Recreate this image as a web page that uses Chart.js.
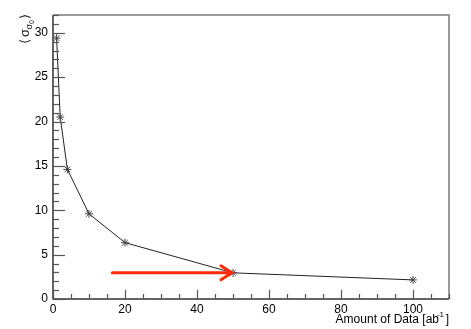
<!DOCTYPE html>
<html>
<head>
<meta charset="utf-8">
<script src="https://cdn.jsdelivr.net/npm/chart.js@4/dist/chart.umd.min.js"></script>
<style>
  html, body { margin: 0; padding: 0; background: #fff; }
  #wrap { width: 471px; height: 329px; }
</style>
</head>
<body>
<div id="wrap"><canvas id="grafico" width="471" height="329"></canvas></div>
<script>
// datos
var cantidad = [1, 2, 4, 10, 20, 50, 100];
var sigma = [29.4, 20.5, 14.6, 9.6, 6.35, 2.95, 2.15];
var xTicks = [0, 20, 40, 60, 80, 100];
var yTicks = [0, 5, 10, 15, 20, 25, 30];
var flechaX = [16.5, 50];
var flechaY = [2.95, 2.95];

var fuente = '"Liberation Sans", Arial, sans-serif';

// ticks hacia adentro, marco y flecha roja
var marcoPlugin = {
  id: 'marco',
  afterDatasetsDraw: function (chart) {
    var ctx = chart.ctx;
    var a = chart.chartArea;
    var sx = chart.scales.x, sy = chart.scales.y;
    ctx.save();
    // marco gris arriba y derecha
    ctx.strokeStyle = '#999';
    ctx.lineWidth = 2;
    ctx.beginPath();
    ctx.moveTo(a.left, a.top);
    ctx.lineTo(a.right, a.top);
    ctx.lineTo(a.right, a.bottom);
    ctx.stroke();
    // ejes
    ctx.strokeStyle = '#333';
    ctx.lineWidth = 1.5;
    ctx.beginPath();
    ctx.moveTo(a.left, a.top);
    ctx.lineTo(a.left, a.bottom);
    ctx.lineTo(a.right, a.bottom);
    ctx.stroke();
    // ticks y
    ctx.lineWidth = 1.2;
    ctx.strokeStyle = '#555';
    for (var v = 0; v <= sy.max; v += 1) {
      var py = Math.round(sy.getPixelForValue(v)) + 0.5;
      var len = (v % 5 === 0) ? 12 : 6;
      ctx.beginPath();
      ctx.moveTo(a.left, py);
      ctx.lineTo(a.left + len, py);
      ctx.stroke();
    }
    // ticks x
    for (var u = 0; u <= sx.max; u += 5) {
      var px = Math.round(sx.getPixelForValue(u)) + 0.5;
      var l2 = (u % 20 === 0) ? 9 : 5;
      ctx.beginPath();
      ctx.moveTo(px, a.bottom);
      ctx.lineTo(px, a.bottom - l2);
      ctx.stroke();
    }
    // flecha roja
    var x0 = sx.getPixelForValue(flechaX[0]);
    var x1 = sx.getPixelForValue(flechaX[1]);
    var y0 = sy.getPixelForValue(flechaY[0]);
    ctx.strokeStyle = '#ff2a0a';
    ctx.lineWidth = 3;
    ctx.lineCap = 'round';
    ctx.beginPath();
    ctx.moveTo(x0, y0);
    ctx.lineTo(x1 - 2, y0);
    ctx.moveTo(x1 - 12, y0 - 7);
    ctx.lineTo(x1 - 1, y0);
    ctx.lineTo(x1 - 12, y0 + 7);
    ctx.stroke();
    // titulo eje y
    ctx.translate(29, 29);
    ctx.rotate(-Math.PI / 2);
    ctx.fillStyle = '#222';
    ctx.textBaseline = 'alphabetic';
    ctx.font = '13px ' + fuente;
    ctx.fillText('\u27E8', -15, 0);
    ctx.fillText('\u03C3', -8, 0);
    ctx.font = '9px ' + fuente;
    ctx.fillText('\u03C3', -0.5, 3);
    ctx.font = '7px ' + fuente;
    ctx.fillText('0', 5, 5);
    ctx.font = '13px ' + fuente;
    ctx.fillText('\u27E9', 10, 0);
    ctx.restore();
  }
};

var ctx = document.getElementById('grafico').getContext('2d');
new Chart(ctx, {
  type: 'scatter',
  data: {
    datasets: [{
      data: cantidad.map(function (x, i) { return { x: x, y: sigma[i] }; }),
      showLine: true,
      borderColor: '#222',
      borderWidth: 1,
      pointStyle: 'star',
      pointRadius: 4,
      pointBorderColor: '#444',
      pointBorderWidth: 1,
      pointBackgroundColor: '#444',
      tension: 0
    }]
  },
  options: {
    responsive: false,
    animation: false,
    layout: { padding: { left: 0, right: 22, top: 15, bottom: 0 } },
    plugins: { legend: { display: false }, tooltip: { enabled: false } },
    scales: {
      x: {
        type: 'linear', min: 0, max: 110,
        grid: { display: false, drawTicks: false },
        border: { display: false },
        afterBuildTicks: function (s) { s.ticks = xTicks.map(function (v) { return { value: v }; }); },
        afterFit: function (s) { s.height = 30; },
        ticks: { color: '#000', font: { family: fuente, size: 12 }, padding: 3, maxRotation: 0 },
        title: { display: false }
      },
      y: {
        type: 'linear', min: 0, max: 32,
        grid: { display: false, drawTicks: false },
        border: { display: false },
        afterBuildTicks: function (s) { s.ticks = yTicks.map(function (v) { return { value: v }; }); },
        afterFit: function (s) { s.width = 53; },
        ticks: { color: '#000', font: { family: fuente, size: 12 }, padding: 5 }
      }
    }
  },
  plugins: [marcoPlugin, {
    id: 'tituloX',
    afterDraw: function (chart) {
      var c = chart.ctx;
      var a = chart.chartArea;
      c.save();
      c.fillStyle = '#000';
      c.textAlign = 'right';
      c.textBaseline = 'middle';
      c.font = '12px ' + fuente;
      c.fillText('Amount of Data [ab  ]', a.right, 320);
      c.font = '8px ' + fuente;
      c.fillText('-1', a.right - 5, 315);
      c.restore();
    }
  }]
});
</script>
</body>
</html>
